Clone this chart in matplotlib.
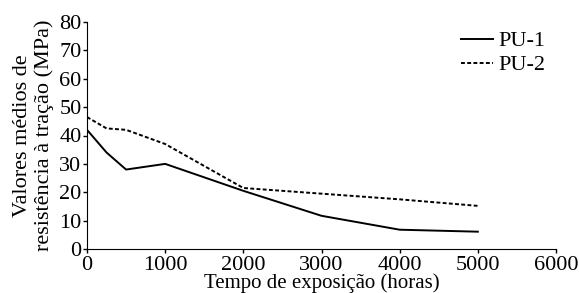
import matplotlib
matplotlib.use("Agg")
import matplotlib.pyplot as plt

plt.rcParams['font.family'] = ['Liberation Serif', 'DejaVu Serif']
plt.rcParams['mathtext.fontset'] = 'stix'

x = [0, 250, 500, 1000, 2000, 3000, 4000, 5000]
pu1 = [42, 34, 28, 30, 20.5, 11.7, 6.8, 6.1]
pu2 = [46.5, 42.5, 42, 37, 21.5, 19.5, 17.5, 15.2]
xticks = [0, 1000, 2000, 3000, 4000, 5000, 6000]
yticks = [0, 10, 20, 30, 40, 50, 60, 70, 80]

fig = plt.figure(figsize=(5.79, 2.93), dpi=100)
ax = fig.add_axes([87/579, 1-249/293, (556-87)/579, (249-22)/293])
ax.plot(x, pu1, color='black', lw=1.4, label='PU-1')
ax.plot(x, pu2, color='black', lw=1.4, ls=(0, (2, 1.2)), label='PU-2')
ax.set_xlim(0, 6000)
ax.set_ylim(0, 80)
ax.set_xticks(xticks)
ax.set_yticks(yticks)
ax.tick_params(labelsize=16, length=3, width=1)
ax.tick_params(axis='x', pad=2)
ax.tick_params(axis='y', pad=1)
for s in ['top', 'right']:
    ax.spines[s].set_visible(False)
ax.set_xlabel('Tempo de exposição (horas)', fontsize=15, labelpad=-1)
ax.set_ylabel('Valores médios de\nresistência à tração (MPa)', fontsize=16, labelpad=4, linespacing=1.15)
ax.legend(loc='upper right', bbox_to_anchor=(1.0, 1.01), frameon=False, fontsize=16,
          handlelength=1.45, handletextpad=0.2, labelspacing=0.15, borderpad=0)
fig.savefig('out.png', dpi=100)
